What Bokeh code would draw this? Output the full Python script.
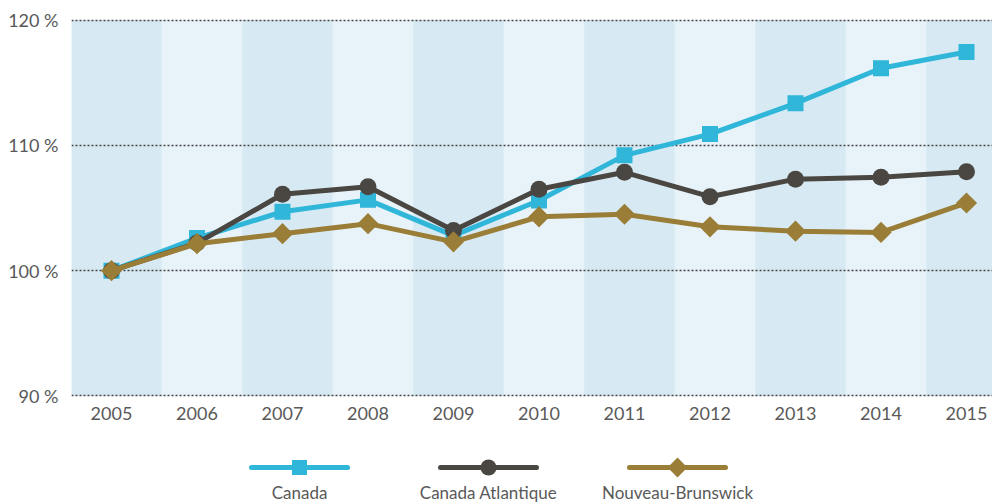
import math
from bokeh.plotting import figure
from bokeh.layouts import column
from bokeh.models import Range1d, FixedTicker, PrintfTickFormatter
from bokeh.core.properties import value
from bokeh.embed import file_html
from bokeh.resources import INLINE

# ---- data ----
years = [2005, 2006, 2007, 2008, 2009, 2010, 2011, 2012, 2013, 2014, 2015]
canada = [100.0, 102.6, 104.7, 105.65, 102.8, 105.6, 109.2, 110.9, 113.35, 116.15, 117.45]
atlantique = [100.0, 102.2, 106.1, 106.7, 103.2, 106.5, 107.85, 105.9, 107.3, 107.45, 107.9]
nouveau_brunswick = [100.0, 102.15, 102.95, 103.75, 102.3, 104.3, 104.5, 103.5, 103.15, 103.05, 105.4]
series_names = ["Canada", "Canada Atlantique", "Nouveau-Brunswick"]
y_ticks = [90, 100, 110, 120]

FONT = "Lato"
TXT = "#595959"
C_CAN = "#2fb6d9"
C_ATL = "#4a4743"
C_NB = "#9a7d36"
BAND_DARK = "#d7eaf3"
BAND_LIGHT = "#e7f3f8"

FRAME_L = 71
W = 992
px_per_year = 85.5
x_left = years[0] - 40 / px_per_year
x_right = x_left + (W - FRAME_L) / px_per_year
pad = 0.12

p = figure(width=W, height=448, output_backend="svg", toolbar_location=None,
           x_range=Range1d(x_left, x_right),
           y_range=Range1d(y_ticks[0] - pad, y_ticks[-1] + pad),
           min_border_left=FRAME_L, min_border_right=0, min_border_top=18,
           min_border_bottom=51)
p.background_fill_color = "white"
p.border_fill_color = "white"
p.outline_line_color = None

# column bands (light everywhere, darker on alternate years)
p.quad(left=[x_left], right=[x_right], bottom=y_ticks[0], top=y_ticks[-1],
       fill_color=BAND_LIGHT, line_color=None, level="image")
dark_years = years[0::2]
p.quad(left=[y - 0.47 for y in dark_years], right=[y + 0.585 for y in dark_years],
       bottom=y_ticks[0], top=y_ticks[-1], fill_color=BAND_DARK, line_color=None,
       level="image")

# grid
p.xgrid.grid_line_color = None
p.ygrid.ticker = FixedTicker(ticks=y_ticks)
p.ygrid.grid_line_color = "#444444"
p.ygrid.grid_line_width = 1.5
p.ygrid.grid_line_dash = "2 2"

# axes
p.yaxis.ticker = FixedTicker(ticks=y_ticks)
p.yaxis.formatter = PrintfTickFormatter(format="%d %%")
p.xaxis.ticker = FixedTicker(ticks=years)
for ax in (p.xaxis, p.yaxis):
    ax.axis_line_color = None
    ax.major_tick_line_color = None
    ax.minor_tick_line_color = None
    ax.major_tick_out = 0
    ax.major_tick_in = 0
    ax.major_label_text_font = FONT
    ax.major_label_text_font_size = "18px"
    ax.major_label_text_color = TXT
p.yaxis.major_label_standoff = 13
p.xaxis.major_label_standoff = 9

# series
p.line(years, canada, line_color=C_CAN, line_width=5)
p.scatter(years, canada, marker="square", size=16, fill_color=C_CAN, line_color=None)
p.line(years, atlantique, line_color=C_ATL, line_width=5)
p.scatter(years, atlantique, marker="circle", size=17, fill_color=C_ATL, line_color=None)
p.line(years, nouveau_brunswick, line_color=C_NB, line_width=5)
p.scatter(years, nouveau_brunswick, marker="square", angle=math.pi / 4, size=15,
          fill_color=C_NB, line_color=None)

# ---- legend (separate strip below; its frame is aligned with the main frame) ----
LG_H = 55
lg = figure(width=W, height=LG_H, output_backend="svg", toolbar_location=None,
            x_range=Range1d(FRAME_L, W), y_range=Range1d(0, LG_H),
            min_border_left=FRAME_L, min_border_right=0,
            min_border_top=0, min_border_bottom=0)
lg.axis.visible = False
lg.grid.visible = False
lg.outline_line_color = None
lg.background_fill_color = "white"
lg.border_fill_color = "white"

colors = [C_CAN, C_ATL, C_NB]
markers = ["square", "circle", "square"]
angles = [0, 0, math.pi / 4]
sizes = [15, 16, 14]
centers = [299 + i * 189 for i in range(len(series_names))]
for c, col, mk, an, sz in zip(centers, colors, markers, angles, sizes):
    lg.line([c - 48, c + 48], [LG_H - 19, LG_H - 19], line_color=col, line_width=5,
            line_cap="round")
    lg.scatter([c], [LG_H - 19], marker=mk, angle=an, size=sz, fill_color=col,
               line_color=None)
lg.text(x=centers, y=[11] * len(centers), text=series_names, text_align="center",
        text_baseline="middle", text_font=value(FONT), text_font_size="17px",
        text_color=TXT)

layout = column(p, lg, spacing=0)
open("out.html", "w").write(file_html(layout, INLINE))
